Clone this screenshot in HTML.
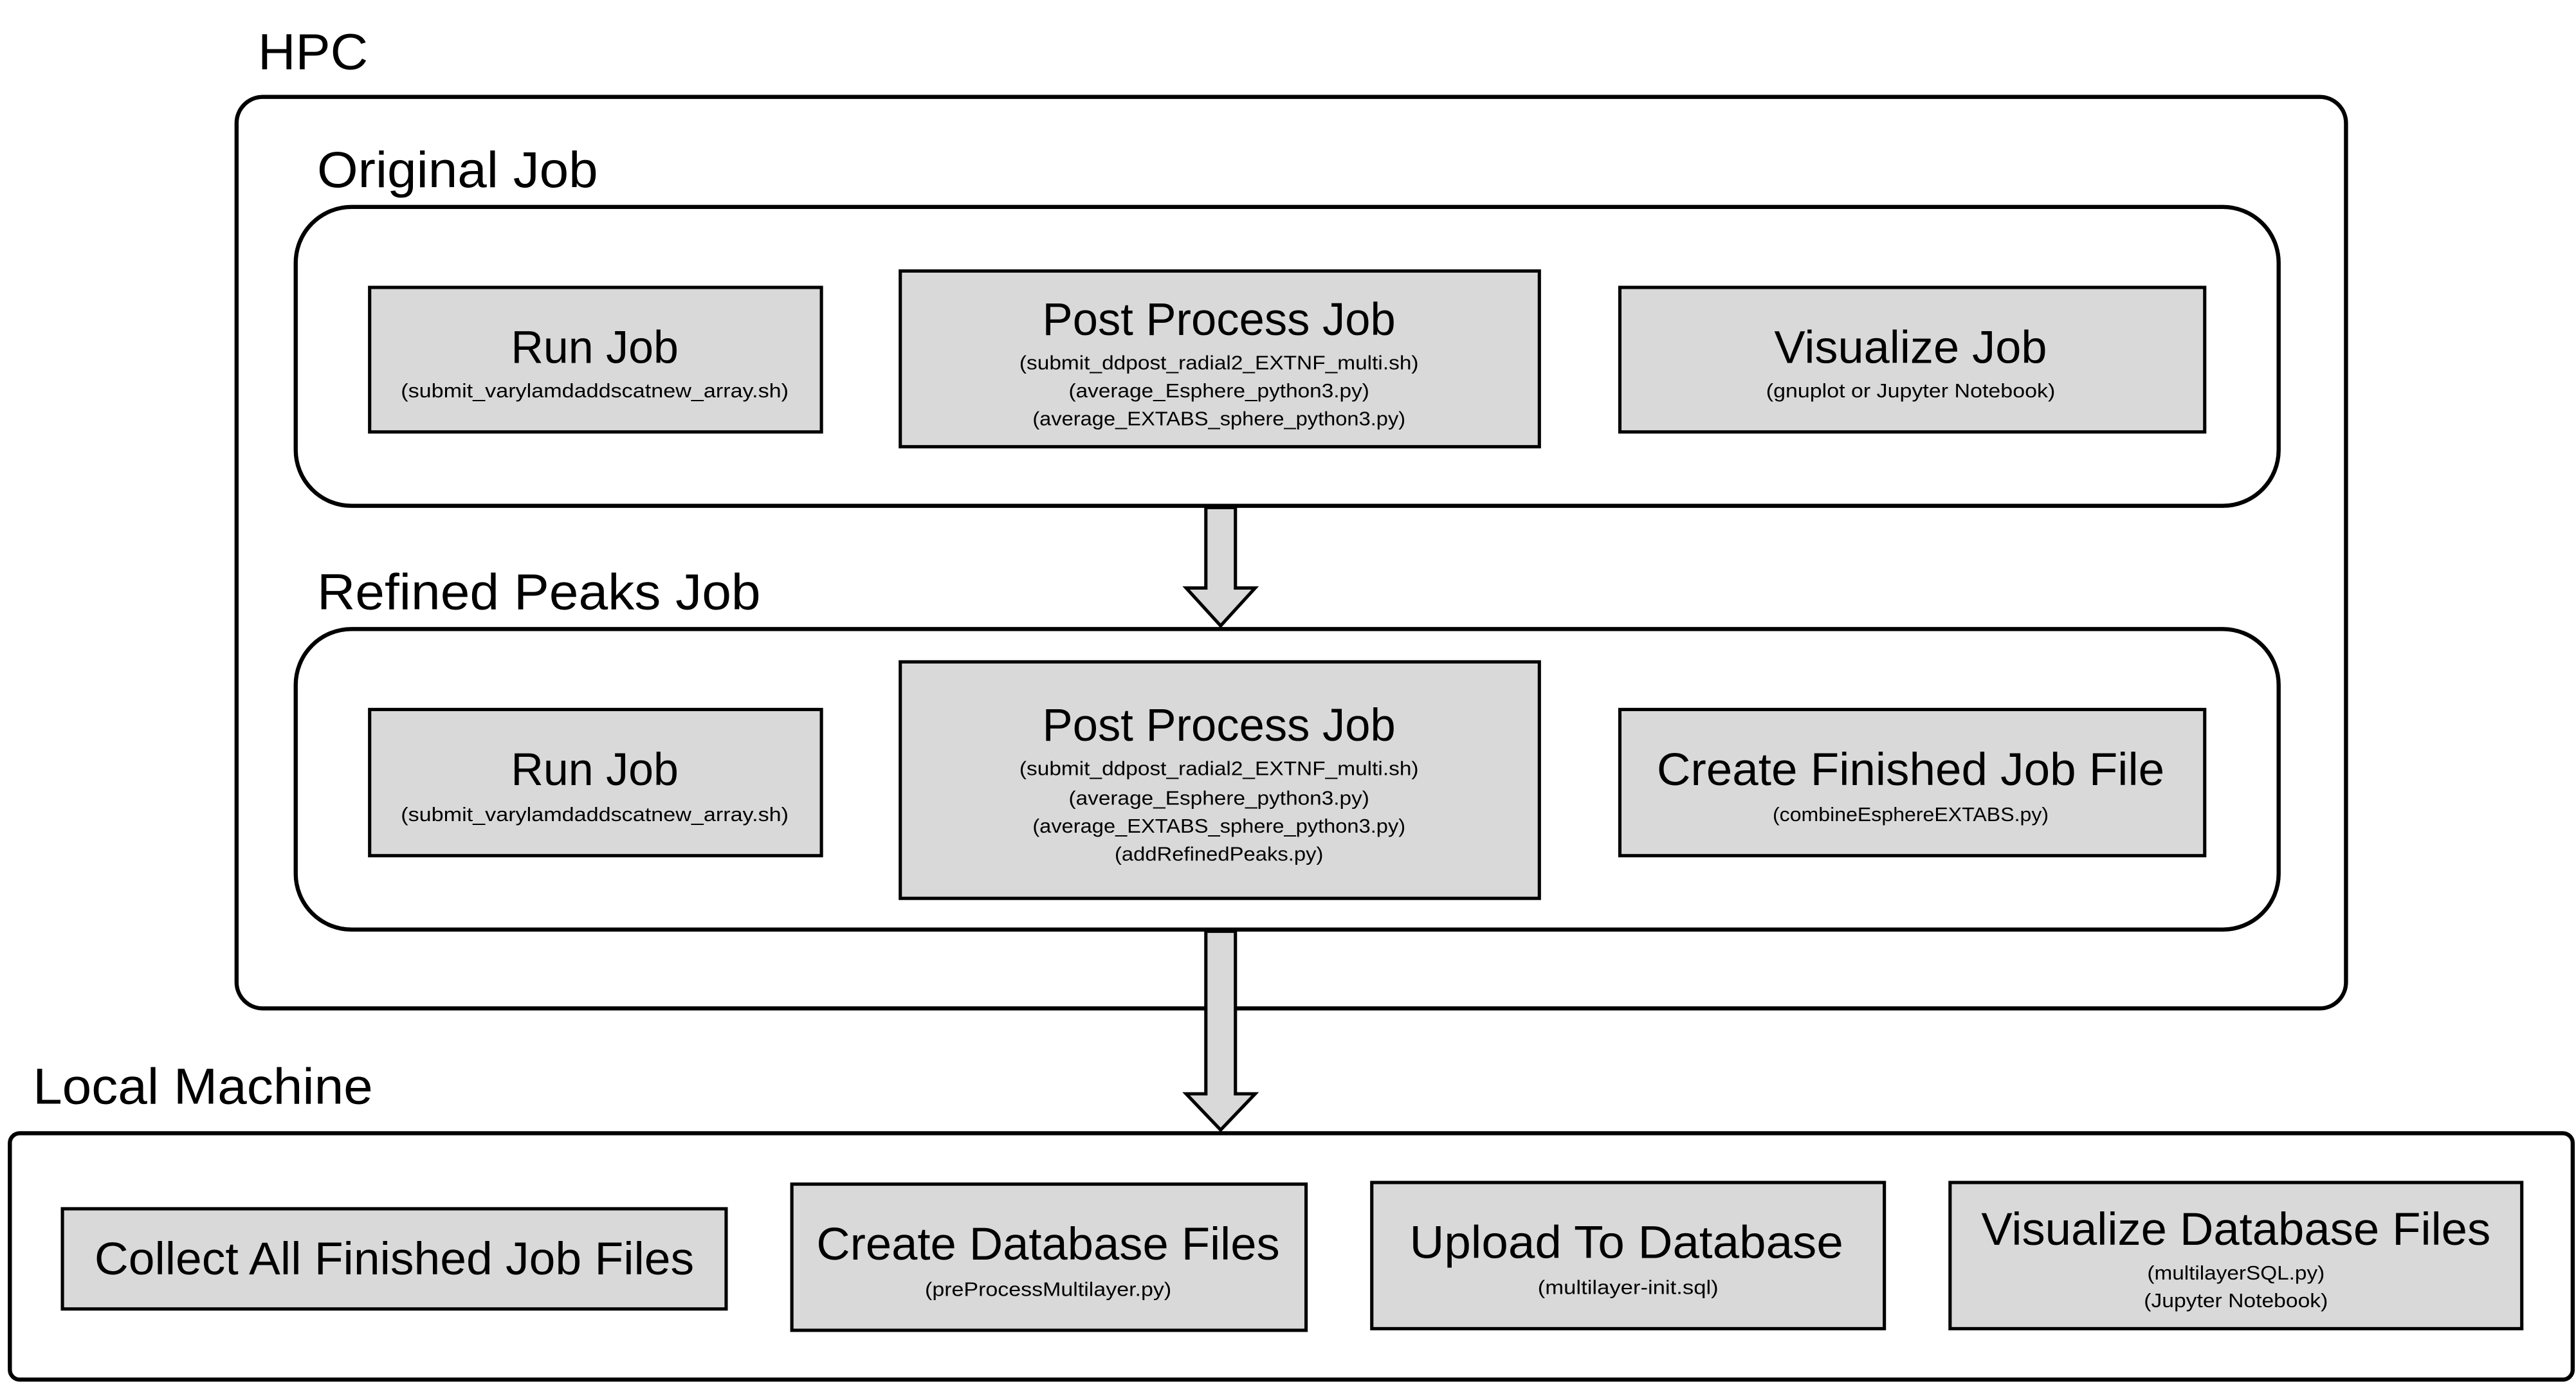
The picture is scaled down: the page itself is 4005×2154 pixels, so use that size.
<!DOCTYPE html>
<html><head><meta charset="utf-8"><style>html,body{margin:0;padding:0;background:#fff}svg{display:block}</style></head>
<body>
<svg width="4005" height="2154" viewBox="0 0 1568 843.3" preserveAspectRatio="none" xmlns="http://www.w3.org/2000/svg" font-family="Liberation Sans, Arial, sans-serif">
<rect width="1568" height="843.3" fill="#fff"/>
<g fill="none" stroke="#000" stroke-width="2.5">
<rect x="144" y="59" width="1284" height="555" rx="16"/>
<rect x="180" y="126" width="1207" height="182" rx="34"/>
<rect x="180" y="383" width="1207" height="183" rx="34"/>
<rect x="6" y="690" width="1560" height="150" rx="6"/>
</g>
<g fill="#d9d9d9" stroke="#000" stroke-width="2">
<rect x="225" y="175" width="275" height="88"/>
<rect x="548" y="165" width="389" height="107"/>
<rect x="986" y="175" width="356" height="88"/>
<rect x="225" y="432" width="275" height="89"/>
<rect x="548" y="403" width="389" height="144"/>
<rect x="986" y="432" width="356" height="89"/>
<rect x="38" y="736" width="404" height="61"/>
<rect x="482" y="721" width="313" height="89"/>
<rect x="835" y="720" width="312" height="89"/>
<rect x="1187" y="720" width="348" height="89"/>
<polygon points="734,309 752,309 752,358 764,358 743,381 722,358 734,358"/>
<polygon points="734,567 752,567 752,666 764,666 743,688 722,666 734,666"/>
</g>
<g font-size="31" fill="#000" lengthAdjust="spacingAndGlyphs">
<text x="157" y="42" textLength="67" lengthAdjust="spacingAndGlyphs">HPC</text>
<text x="193" y="114" textLength="171" lengthAdjust="spacingAndGlyphs">Original Job</text>
<text x="193" y="371" textLength="270" lengthAdjust="spacingAndGlyphs">Refined Peaks Job</text>
<text x="20" y="672" textLength="207" lengthAdjust="spacingAndGlyphs">Local Machine</text>
</g>
<g font-size="28" fill="#000" text-anchor="middle">
<text x="362" y="221" textLength="102" lengthAdjust="spacingAndGlyphs">Run Job</text>
<text x="742" y="204" textLength="215" lengthAdjust="spacingAndGlyphs">Post Process Job</text>
<text x="1163" y="221" textLength="166" lengthAdjust="spacingAndGlyphs">Visualize Job</text>
<text x="362" y="478" textLength="102" lengthAdjust="spacingAndGlyphs">Run Job</text>
<text x="742" y="451" textLength="215" lengthAdjust="spacingAndGlyphs">Post Process Job</text>
<text x="1163" y="478" textLength="309" lengthAdjust="spacingAndGlyphs">Create Finished Job File</text>
<text x="240" y="776" textLength="365" lengthAdjust="spacingAndGlyphs">Collect All Finished Job Files</text>
<text x="638" y="767" textLength="282" lengthAdjust="spacingAndGlyphs">Create Database Files</text>
<text x="990" y="766" textLength="264" lengthAdjust="spacingAndGlyphs">Upload To Database</text>
<text x="1361" y="758" textLength="310" lengthAdjust="spacingAndGlyphs">Visualize Database Files</text>
</g>
<g font-size="12" fill="#000" text-anchor="middle">
<text x="362" y="242" textLength="236" lengthAdjust="spacingAndGlyphs">(submit_varylamdaddscatnew_array.sh)</text>
<text x="742" y="225" textLength="243" lengthAdjust="spacingAndGlyphs">(submit_ddpost_radial2_EXTNF_multi.sh)</text>
<text x="742" y="242" textLength="183" lengthAdjust="spacingAndGlyphs">(average_Esphere_python3.py)</text>
<text x="742" y="259" textLength="227" lengthAdjust="spacingAndGlyphs">(average_EXTABS_sphere_python3.py)</text>
<text x="1163" y="242" textLength="176" lengthAdjust="spacingAndGlyphs">(gnuplot or Jupyter Notebook)</text>
<text x="362" y="500" textLength="236" lengthAdjust="spacingAndGlyphs">(submit_varylamdaddscatnew_array.sh)</text>
<text x="742" y="472" textLength="243" lengthAdjust="spacingAndGlyphs">(submit_ddpost_radial2_EXTNF_multi.sh)</text>
<text x="742" y="490" textLength="183" lengthAdjust="spacingAndGlyphs">(average_Esphere_python3.py)</text>
<text x="742" y="507" textLength="227" lengthAdjust="spacingAndGlyphs">(average_EXTABS_sphere_python3.py)</text>
<text x="742" y="524" textLength="127" lengthAdjust="spacingAndGlyphs">(addRefinedPeaks.py)</text>
<text x="1163" y="500" textLength="168" lengthAdjust="spacingAndGlyphs">(combineEsphereEXTABS.py)</text>
<text x="638" y="789" textLength="150" lengthAdjust="spacingAndGlyphs">(preProcessMultilayer.py)</text>
<text x="991" y="788" textLength="110" lengthAdjust="spacingAndGlyphs">(multilayer-init.sql)</text>
<text x="1361" y="779" textLength="108" lengthAdjust="spacingAndGlyphs">(multilayerSQL.py)</text>
<text x="1361" y="796" textLength="112" lengthAdjust="spacingAndGlyphs">(Jupyter Notebook)</text>
</g>
</svg>
</body></html>
